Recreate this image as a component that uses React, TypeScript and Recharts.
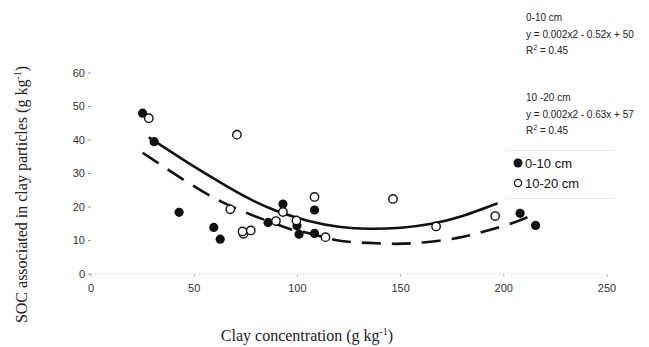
import { ComposedChart, Scatter, Line, XAxis, YAxis, Legend } from 'recharts';

// 0-10 cm samples (filled markers)
const topX = [25, 30.6, 42.7, 59.5, 62.6, 85.8, 93, 99.8, 100.8, 108.3, 108.3, 207.9, 215.4];
const topY = [48, 39.5, 18.4, 13.9, 10.4, 15.4, 20.9, 14.4, 11.9, 19.1, 12.1, 18.1, 14.5];

// 10-20 cm samples (open markers)
const subX = [28, 70.7, 67.5, 73.9, 73.4, 77.4, 89.6, 93, 99.5, 108.3, 113.6, 146.3, 167.2, 195.8];
const subY = [46.5, 41.6, 19.3, 12.0, 12.7, 13.0, 15.8, 18.5, 16.0, 23.0, 11.0, 22.4, 14.2, 17.3];

// trend lines
const topFitX = [28, 45, 60, 75, 90, 105, 120, 135, 150, 165, 180, 197];
const topFitY = [40.8, 34.0, 28.3, 23.0, 18.8, 15.9, 14.1, 13.5, 13.8, 15.0, 17.3, 21.1];
const subFitX = [25, 47, 61, 76, 97, 104, 119, 134, 148, 162, 177, 190, 205, 215];
const subFitY = [36.2, 27.3, 22.3, 18.1, 13.3, 12.4, 10.1, 9.3, 9.0, 9.5, 10.7, 12.6, 15.4, 17.9];

const xTicks = [0, 50, 100, 150, 200, 250];
const yTicks = [0, 10, 20, 30, 40, 50, 60];

const zip = (xs: number[], ys: number[]) => xs.map((x, i) => ({ x, y: ys[i] }));

const tickStyle = { fontSize: 11, fill: '#333', fontFamily: 'Liberation Sans, Arial, sans-serif' };

const FilledDot = (p: any) => <circle cx={p.cx} cy={p.cy} r={4.6} fill="#111" />;
const OpenDot = (p: any) => (
  <circle cx={p.cx} cy={p.cy} r={4.2} fill="#fff" stroke="#111" strokeWidth={1.4} />
);

const YTitle = (props: any) => {
  const vb = props.viewBox || { x: 0, y: 0, width: 0, height: 0 };
  const cx = vb.x + 6;
  const cy = vb.y + vb.height / 2 + 21;
  return (
    <text
      transform={`translate(${cx},${cy}) rotate(-90)`}
      textAnchor="middle"
      fontSize={16}
      fill="#222"
      fontFamily="Liberation Serif, Times New Roman, serif"
    >
      SOC associated in clay particles (g kg
      <tspan dy={-6} fontSize={10}>-1</tspan>
      <tspan dy={6}>)</tspan>
    </text>
  );
};

const XTitle = (props: any) => {
  const vb = props.viewBox || { x: 0, y: 0, width: 0, height: 0 };
  return (
    <text
      x={vb.x + vb.width / 2 - 42}
      y={vb.y + 67}
      textAnchor="middle"
      fontSize={16}
      fill="#222"
      fontFamily="Liberation Serif, Times New Roman, serif"
    >
      Clay concentration (g kg
      <tspan dy={-6} fontSize={10}>-1</tspan>
      <tspan dy={6}>)</tspan>
    </text>
  );
};

const LegendBox = () => (
  <div
    style={{
      width: 100,
      padding: '3px 0 4px 8px',
      borderTop: '1px dotted #ddd',
      borderBottom: '1px dotted #ddd',
      fontSize: 13,
      color: '#111',
      lineHeight: '20px',
    }}
  >
    <div>
      <svg width={10} height={10} style={{ marginRight: 2 }}>
        <circle cx={5} cy={5} r={4.5} fill="#111" />
      </svg>
      0-10 cm
    </div>
    <div>
      <svg width={10} height={10} style={{ marginRight: 2 }}>
        <circle cx={5} cy={5} r={3.6} fill="#fff" stroke="#111" strokeWidth={1.3} />
      </svg>
      10-20 cm
    </div>
  </div>
);

const noteStyle: React.CSSProperties = {
  position: 'absolute',
  left: 526,
  fontSize: 10,
  lineHeight: '16.5px',
  color: '#222',
};

export default function App() {
  return (
    <div
      style={{
        position: 'absolute',
        left: 0,
        top: 0,
        width: 649,
        height: 347,
        background: '#fff',
        fontFamily: 'Liberation Sans, Arial, sans-serif',
      }}
    >
      <ComposedChart width={649} height={347} margin={{ top: 73, right: 42, bottom: 43, left: 21 }}>
        <XAxis
          type="number"
          dataKey="x"
          domain={[0, 250]}
          ticks={xTicks}
          allowDataOverflow
          height={30}
          tick={tickStyle}
          tickSize={3}
          tickMargin={7}
          axisLine={{ stroke: '#ccc', strokeDasharray: '1 3' }}
          tickLine={{ stroke: '#bbb' }}
          label={<XTitle />}
        />
        <YAxis
          type="number"
          dataKey="y"
          domain={[0, 60]}
          ticks={yTicks}
          width={70}
          tick={tickStyle}
          tickSize={3}
          tickMargin={3}
          axisLine={false}
          tickLine={{ stroke: '#999' }}
          label={<YTitle />}
        />
        <Legend
          layout="vertical"
          align="center"
          verticalAlign="middle"
          content={<LegendBox />}
          wrapperStyle={{ left: 505, top: 150, width: 110 }}
        />
        <Line
          data={zip(topFitX, topFitY)}
          dataKey="y"
          type="natural"
          stroke="#111"
          strokeWidth={2.6}
          dot={false}
          activeDot={false}
          legendType="none"
          isAnimationActive={false}
        />
        <Line
          data={zip(subFitX, subFitY)}
          dataKey="y"
          type="natural"
          stroke="#111"
          strokeWidth={2.6}
          strokeDasharray="19 11"
          dot={false}
          activeDot={false}
          legendType="none"
          isAnimationActive={false}
        />
        <Scatter
          name="0-10 cm"
          data={zip(topX, topY)}
          dataKey="y"
          shape={FilledDot}
          isAnimationActive={false}
        />
        <Scatter
          name="10-20 cm"
          data={zip(subX, subY)}
          dataKey="y"
          shape={OpenDot}
          isAnimationActive={false}
        />
      </ComposedChart>

      <div style={{ ...noteStyle, top: 10 }}>
        0-10 cm
        <br />
        y = 0.002x2 - 0.52x + 50
        <br />
        R<sup style={{ fontSize: 7, verticalAlign: 'top', lineHeight: '10px' }}>2</sup> = 0.45
      </div>
      <div style={{ ...noteStyle, top: 90 }}>
        10 -20 cm
        <br />
        y = 0.002x2 - 0.63x + 57
        <br />
        R<sup style={{ fontSize: 7, verticalAlign: 'top', lineHeight: '10px' }}>2</sup> = 0.45
      </div>
    </div>
  );
}
